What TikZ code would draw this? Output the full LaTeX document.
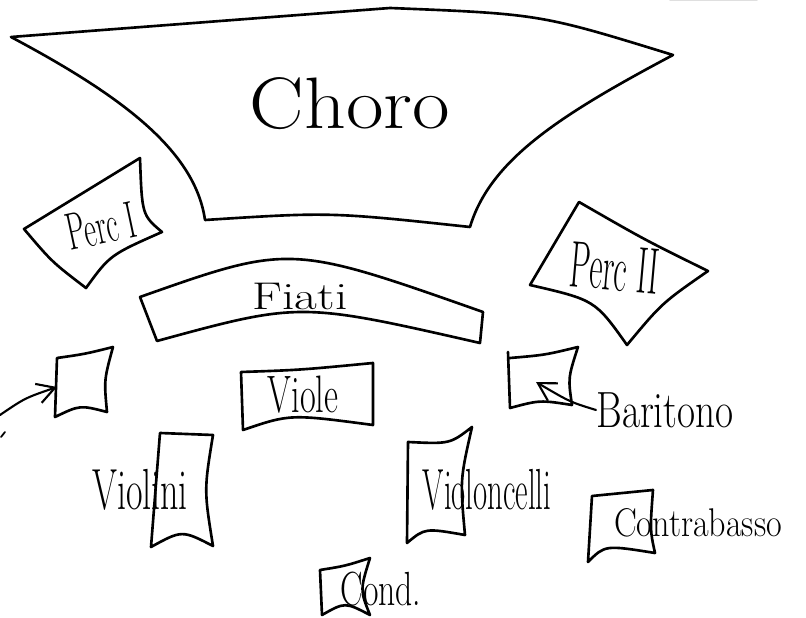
\documentclass[tikz,border=0pt]{standalone}
\usepackage{fontspec}
\usetikzlibrary{arrows.meta}

\newcommand{\handfont}[1]{\fontsize{#1}{#1}\selectfont}

\begin{document}
\begin{tikzpicture}[x=0.02cm, y=-0.02cm, line join=round, line cap=round,
  stand/.style={draw, line width=1.5pt},
  hand/.style={inner sep=0pt},
  pointer/.style={line width=1.2pt, -{Straight Barb[length=3.5mm, width=4mm]}}]

\useasboundingbox (0,0) rectangle (806,618);

% choir
\draw[stand] (11,37) .. controls (200,22) .. (390,8) .. controls (540,14) .. (673,55)
  .. controls (560,115) and (490,160) .. (470,227)
  .. controls (330,212) .. (205,220)
  .. controls (195,150) and (120,95) .. cycle;

% percussion
\draw[stand] (24,229) -- (140,158) .. controls (142,215) .. (162,232) .. controls (110,255) .. (86,288) .. controls (52,262) .. cycle;
\draw[stand] (530,285) -- (579,202) .. controls (645,240) .. (708,271) .. controls (662,303) .. (627,345) .. controls (595,300) .. cycle;

% winds
\draw[stand] (140,297) .. controls (290,244) .. (483,312) -- (480,343) .. controls (300,302) .. (157,341) -- cycle;

% soloists and strings
\draw[stand] (57,358) .. controls (85,354) .. (113,347) .. controls (104,380) .. (107,412) .. controls (80,405) .. (55,417) -- cycle;
\draw[stand] (241,372) .. controls (300,370) .. (373,363) -- (373,425) .. controls (290,414) .. (243,430) -- cycle;
\draw[stand] (510,358) .. controls (545,355) .. (578,347) .. controls (568,378) .. (572,405) .. controls (540,400) .. (510,408) -- (508,352);
\draw[stand] (160,433) -- (213,435) .. controls (204,490) .. (213,546) .. controls (182,530) .. (151,547) -- cycle;
\draw[stand] (408,442) .. controls (450,444) .. (472,427) .. controls (460,480) .. (465,535) .. controls (425,528) .. (407,543) -- cycle;
\draw[stand] (592,496) -- (653,490) .. controls (650,530) .. (655,553) .. controls (605,545) .. (588,562) -- cycle;
\draw[stand] (320,570) .. controls (345,566) .. (370,558) .. controls (360,590) .. (370,615) .. controls (345,602) .. (322,615) -- cycle;

% labels
\node[hand] (choro) at (350,104) {\handfont{41.5pt}\scalebox{1.12}[1]{Choro}};
\node[hand, rotate=12] (perc_1) at (101,226) {\handfont{30pt}\scalebox{.56}[1]{Perc I}};
\node[hand, rotate=-5] (perc_2) at (615,268) {\handfont{37.5pt}\scalebox{.49}[1]{Perc II}};
\node[hand] (fiati) at (300,296) {\handfont{22pt}\scalebox{1.28}[1]{Fiati}};
\node[hand] (viole) at (303,395) {\handfont{30pt}\scalebox{.65}[1]{Viole}};
\node[hand] (baritono) at (665,410) {\handfont{29pt}\scalebox{.77}[1]{Baritono}};
\node[hand] (violini) at (140,490) {\handfont{33pt}\scalebox{.62}[1]{Violini}};
\node[hand] (violoncelli) at (487,490) {\handfont{33pt}\scalebox{.53}[1]{Violoncelli}};
\node[hand] (contrabasso) at (698,523) {\handfont{22.8pt}\scalebox{.85}[1]{Contrabasso}};
\node[hand] (cond) at (381,589) {\handfont{27.3pt}\scalebox{.7}[1]{Cond.}};

% arrows
\coordinate (offstage) at (0,415);
\coordinate (solo_left) at (57,387);
\coordinate (solo_right) at (536,382);
\draw[pointer] (offstage) .. controls (25,398) .. (solo_left);
\draw[pointer] (baritono.west) .. controls (570,402) .. (solo_right);

% stray marks
\draw[line width=1pt] (5,432) -- (1,437);
\draw[gray!25, line width=0.6pt] (670,0.5) -- (757,0.5);
\end{tikzpicture}
\end{document}
